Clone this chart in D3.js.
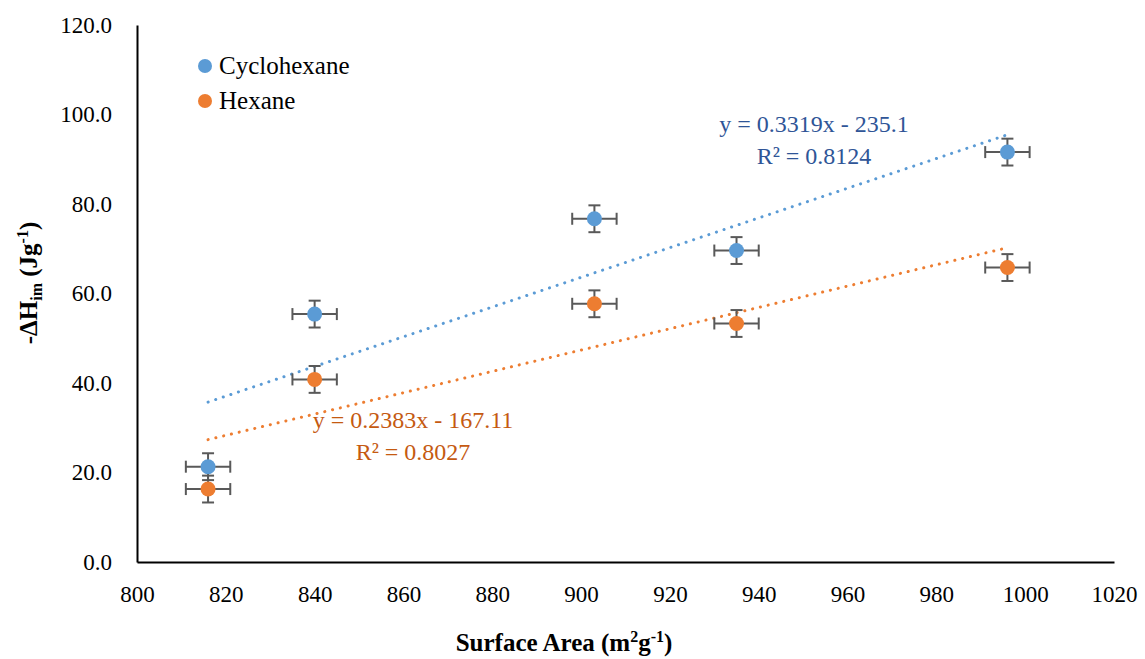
<!DOCTYPE html>
<html>
<head>
<meta charset="utf-8">
<script src="https://cdn.jsdelivr.net/npm/d3@7"></script>
<style>
  body { margin: 0; background: #fff; }
</style>
</head>
<body>
<div id="chart"></div>
<script>
const surfaceArea = [816, 840, 903, 935, 996];
const cyclohexane = [21.3, 55.4, 76.7, 69.6, 91.6];
const hexane = [16.3, 40.8, 57.7, 53.3, 65.8];
const xErr = 5;
const yErr = 3;
const xTicks = [800, 820, 840, 860, 880, 900, 920, 940, 960, 980, 1000, 1020];
const yTicks = [0, 20, 40, 60, 80, 100, 120];
const trendCyclohexane = { slope: 0.3319, intercept: -235.1, label: 'y = 0.3319x - 235.1', r2: 'R² = 0.8124' };
const trendHexane = { slope: 0.2383, intercept: -167.11, label: 'y = 0.2383x - 167.11', r2: 'R² = 0.8027' };

const FONT = "'Liberation Serif', 'Times New Roman', serif";
const width = 1145, height = 659;
const margin = { top: 25, right: 31, bottom: 97, left: 137 };

const svg = d3.select('#chart').append('svg')
  .attr('width', width)
  .attr('height', height)
  .style('font-family', FONT);

const x = d3.scaleLinear().domain([800, 1020]).range([margin.left, width - margin.right]);
const y = d3.scaleLinear().domain([0, 120]).range([height - margin.bottom, margin.top]);

// axes
svg.append('g')
  .attr('transform', 'translate(0,' + y(0) + ')')
  .call(d3.axisBottom(x).tickValues(xTicks).tickSize(0).tickPadding(24).tickFormat(d3.format('d')))
  .call(g => g.select('.domain').attr('stroke', '#000').attr('stroke-width', 2))
  .call(g => g.selectAll('text').style('font-family', FONT).attr('font-size', 23).attr('fill', '#000'));

svg.append('g')
  .attr('transform', 'translate(' + x(800) + ',0)')
  .call(d3.axisLeft(y).tickValues(yTicks).tickSize(0).tickPadding(25).tickFormat(d3.format('.1f')))
  .call(g => g.select('.domain').attr('stroke', '#000').attr('stroke-width', 2))
  .call(g => g.selectAll('text').style('font-family', FONT).attr('font-size', 23).attr('fill', '#000'));

// axis titles
const xTitle = svg.append('text')
  .attr('x', 564).attr('y', 651)
  .attr('text-anchor', 'middle')
  .attr('font-size', 25).attr('font-weight', 'bold');
xTitle.append('tspan').text('Surface Area (m');
xTitle.append('tspan').attr('font-size', 16).attr('dy', -9).text('2');
xTitle.append('tspan').attr('dy', 9).text('g');
xTitle.append('tspan').attr('font-size', 16).attr('dy', -9).text('-1');
xTitle.append('tspan').attr('dy', 9).text(')');

const yTitle = svg.append('text')
  .attr('transform', 'translate(37,283) rotate(-90)')
  .attr('text-anchor', 'middle')
  .attr('font-size', 25).attr('font-weight', 'bold');
yTitle.append('tspan').text('-ΔH');
yTitle.append('tspan').attr('font-size', 16).attr('dy', 5).text('im');
yTitle.append('tspan').attr('dy', -5).text(' (Jg');
yTitle.append('tspan').attr('font-size', 16).attr('dy', -9).text('-1');
yTitle.append('tspan').attr('dy', 9).text(')');

function drawSeries(values, color, trend, labelColor, labelPos) {
  const pts = surfaceArea.map((d, i) => ({ x: d, y: values[i] }));
  const xMin = d3.min(surfaceArea), xMax = d3.max(surfaceArea);

  // dotted trendline
  svg.append('line')
    .attr('x1', x(xMin)).attr('y1', y(trend.slope * xMin + trend.intercept))
    .attr('x2', x(xMax)).attr('y2', y(trend.slope * xMax + trend.intercept))
    .attr('stroke', color)
    .attr('stroke-width', 3)
    .attr('stroke-linecap', 'round')
    .attr('stroke-dasharray', '0.1 7.9');

  const g = svg.append('g');
  const eb = g.selectAll('.err').data(pts).enter().append('g')
    .attr('stroke', '#595959').attr('stroke-width', 2).attr('fill', 'none');
  eb.append('line')
    .attr('x1', d => x(d.x - xErr)).attr('x2', d => x(d.x + xErr))
    .attr('y1', d => y(d.y)).attr('y2', d => y(d.y));
  eb.append('line')
    .attr('x1', d => x(d.x - xErr)).attr('x2', d => x(d.x - xErr))
    .attr('y1', d => y(d.y) - 6).attr('y2', d => y(d.y) + 6);
  eb.append('line')
    .attr('x1', d => x(d.x + xErr)).attr('x2', d => x(d.x + xErr))
    .attr('y1', d => y(d.y) - 6).attr('y2', d => y(d.y) + 6);
  eb.append('line')
    .attr('x1', d => x(d.x)).attr('x2', d => x(d.x))
    .attr('y1', d => y(d.y - yErr)).attr('y2', d => y(d.y + yErr));
  eb.append('line')
    .attr('x1', d => x(d.x) - 6).attr('x2', d => x(d.x) + 6)
    .attr('y1', d => y(d.y + yErr)).attr('y2', d => y(d.y + yErr));
  eb.append('line')
    .attr('x1', d => x(d.x) - 6).attr('x2', d => x(d.x) + 6)
    .attr('y1', d => y(d.y - yErr)).attr('y2', d => y(d.y - yErr));

  g.selectAll('circle').data(pts).enter().append('circle')
    .attr('cx', d => x(d.x)).attr('cy', d => y(d.y))
    .attr('r', 7.5)
    .attr('fill', color);

  const lab = svg.append('text')
    .attr('font-size', 24).attr('fill', labelColor).attr('text-anchor', 'middle');
  lab.append('tspan').attr('x', labelPos[0]).attr('y', labelPos[1]).text(trend.label);
  lab.append('tspan').attr('x', labelPos[0]).attr('y', labelPos[1] + 32).text(trend.r2);
}

drawSeries(cyclohexane, '#5B9BD5', trendCyclohexane, '#2F5597', [814, 132]);
drawSeries(hexane, '#ED7D31', trendHexane, '#C55A11', [413, 428]);

// legend
const legend = svg.append('g');
[['Cyclohexane', '#5B9BD5'], ['Hexane', '#ED7D31']].forEach(([name, c], i) => {
  legend.append('circle').attr('cx', 205).attr('cy', 66 + i * 35).attr('r', 7).attr('fill', c);
  legend.append('text').attr('x', 219).attr('y', 74 + i * 35)
    .attr('font-size', 25).text(name);
});
</script>
</body>
</html>
